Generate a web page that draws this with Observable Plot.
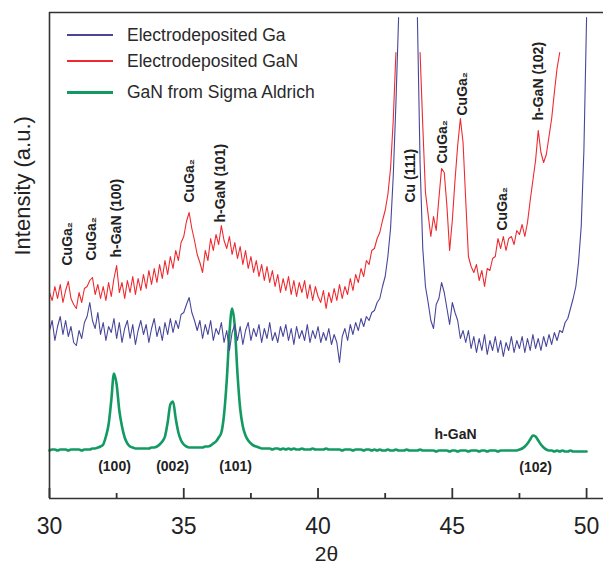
<!DOCTYPE html>
<html>
<head>
<meta charset="utf-8">
<script src="https://cdn.jsdelivr.net/npm/d3@7"></script>
<script src="https://cdn.jsdelivr.net/npm/@observablehq/plot@0.6"></script>
<style>
  html, body { margin: 0; padding: 0; background: #fff; }
  #wrap { position: relative; width: 603px; height: 564px; overflow: hidden; font-family: "Liberation Sans", Arial, sans-serif; }
  #legend { position: absolute; left: 0; top: 0; }
  .item { position: absolute; left: 67px; height: 20px; display: flex; align-items: center; font-size: 17.5px; color: #2a2a2a; white-space: nowrap; }
  .swatch { width: 46px; margin-right: 14px; }
</style>
</head>
<body>
<div id="wrap"><div id="chart"></div><div id="legend"></div></div>
<script>
// 2θ measurement grid
const twoThetaStart = 30.0;
const twoThetaStep = 0.1;

// Series names / colours
const seriesNames = ["Electrodeposited Ga", "Electrodeposited GaN", "GaN from Sigma Aldrich"];
const seriesColors = ["#47469a", "#ee2a2f", "#139a62"];

// Electrodeposited Ga (30.0 .. 50.0, step 0.1), null = off scale (clipped)
const gaIntensity = [
  168,178,158,172,182,164,178,162,172,156,
  153,168,160,176,182,196,178,170,186,164,
  176,158,172,166,180,160,176,156,170,178,
  160,174,154,168,178,164,174,156,170,180,
  162,172,158,176,164,180,166,178,170,184,
  186,194,201,186,178,168,178,160,174,164,
  178,158,170,164,176,156,168,148,166,174,
  158,172,154,168,176,158,170,162,174,156,
  170,160,176,158,166,156,172,162,174,158,
  170,154,172,160,168,158,174,156,168,160,
  172,156,166,158,170,154,164,156,136,162,
  170,158,174,164,176,168,180,172,182,178,
  186,188,196,200,212,222,242,270,322,395,
  481,null,null,null,null,null,null,481,335,250,
  212,196,178,170,194,200,216,206,190,174,
  196,186,178,160,168,156,168,150,162,146,
  160,148,164,144,158,148,162,146,158,142,
  156,148,162,146,158,150,162,146,160,148,
  164,150,160,148,162,152,164,154,166,158,
  168,166,176,180,190,200,212,236,272,348,
  481
];

// Electrodeposited GaN (30.0 .. 49.0, step 0.1)
const ganIntensity = [
  206,198,212,200,214,196,208,217,200,194,
  190,206,196,210,212,218,221,204,214,200,
  212,198,216,202,220,233,206,216,200,218,
  206,222,204,220,208,224,210,228,214,230,
  216,234,220,238,224,242,230,248,238,256,
  262,277,286,270,258,244,236,226,248,238,
  260,248,264,254,273,258,250,262,244,256,
  240,252,234,248,230,242,226,238,222,234,
  218,232,216,228,212,224,206,220,208,222,
  204,218,202,216,206,218,200,214,198,212,
  202,196,208,190,206,196,210,198,214,200,
  212,204,220,208,224,216,230,222,238,234,
  248,250,260,266,278,288,304,330,378,446,
  null,null,null,null,null,null,null,null,446,373,
  306,284,262,282,268,300,330,326,292,248,
  278,318,353,380,356,298,242,232,226,234,
  218,228,212,230,228,240,242,260,250,262,
  248,260,262,254,268,264,274,262,276,298,
  318,338,368,346,336,344,362,380,406,430,
  446
];

// GaN from Sigma Aldrich (30.0 .. 50.0, step 0.1)
const sigmaIntensity = [
  48,49,49,48,49,49,49,48,49,49,
  49,49,48,49,49,49,50,50,51,52,
  54,62,74,98,125,114,88,72,61,55,
  52,51,50,50,50,50,50,50,51,51,
  52,54,57,62,76,94,97,80,66,58,
  54,52,51,51,51,51,51,51,52,52,
  53,55,57,61,66,84,118,165,190,172,
  125,90,72,63,58,55,53,52,51,50,
  50,50,50,49,50,50,49,50,49,50,
  49,50,49,49,50,49,49,49,50,49,
  49,49,49,50,49,49,49,49,49,48,
  49,49,49,48,49,49,49,48,49,49,
  48,49,48,49,48,48,49,48,48,49,
  48,48,48,49,48,48,48,48,49,48,
  48,48,48,48,47,48,48,48,48,47,
  48,48,47,48,48,48,47,48,48,48,
  47,48,48,47,48,48,48,47,48,48,
  48,48,48,48,48,49,50,52,55,59,
  63,62,58,54,51,49,48,48,47,48,
  47,48,47,47,48,47,47,47,47,47,
  47
];

// Peak annotations (rotated)
const annotLabels = ["CuGa₂", "CuGa₂", "h-GaN (100)", "CuGa₂", "h-GaN (101)", "Cu (111)", "CuGa₂", "CuGa₂", "CuGa₂", "h-GaN (102)"];
const annotTheta = [30.67, 31.56, 32.5, 35.2, 36.37, 43.45, 44.64, 45.38, 46.87, 48.21];
const annotIntensity = [233, 238, 241, 296, 276, 296, 335, 383, 268, 378];

// Reference-pattern reflections
const hklLabels = ["(100)", "(002)", "(101)", "(102)"];
const hklTheta = [32.42, 34.58, 36.93, 48.1];
const hklIntensity = [32, 32, 32, 31];
const phaseLabel = ["h-GaN"];
const phaseTheta = [45.12];
const phaseIntensity = [64];

// Axis ticks and titles
const majorTicks = [30, 35, 40, 45, 50];
const minorTicks = [32.5, 37.5, 42.5, 47.5];
const majorTickLength = 10; // a.u. (inward ticks)
const minorTickLength = 5;
const xDomain = [30, 50.63];
const yDomain = [0, 486];
const xTitle = "2θ";
const yTitle = "Intensity (a.u.)";

function toRows(values) {
  return values.map((v, i) => ({x: +(twoThetaStart + i * twoThetaStep).toFixed(2), y: v}));
}
const gaRows = toRows(gaIntensity);
const ganRows = toRows(ganIntensity);
const sigmaRows = toRows(sigmaIntensity);
const annots = annotLabels.map((t, i) => ({t, x: annotTheta[i], y: annotIntensity[i]}));
const hkl = hklLabels.map((t, i) => ({t, x: hklTheta[i], y: hklIntensity[i]}));
const phase = phaseLabel.map((t, i) => ({t, x: phaseTheta[i], y: phaseIntensity[i]}));

const axisColor = "#333";
const chart = Plot.plot({
  width: 603,
  height: 564,
  marginLeft: 49,
  marginRight: 0,
  marginTop: 12,
  marginBottom: 66,
  x: {domain: xDomain},
  y: {domain: yDomain, axis: null},
  style: {fontFamily: "'Liberation Sans', Arial, sans-serif", background: "#fff", color: "#222", overflow: "visible"},
  marks: [
    Plot.line(sigmaRows, {x: "x", y: "y", stroke: seriesColors[2], strokeWidth: 2.6, curve: "monotone-x"}),
    Plot.line(gaRows, {x: "x", y: "y", stroke: seriesColors[0], strokeWidth: 1.1}),
    Plot.line(ganRows, {x: "x", y: "y", stroke: seriesColors[1], strokeWidth: 1.1}),
    Plot.text(annots, {x: "x", y: "y", text: "t", rotate: -90, textAnchor: "start", lineAnchor: "middle", fontSize: 14, fontWeight: "bold", fill: "#222"}),
    Plot.text(hkl, {x: "x", y: "y", text: "t", fontSize: 14, fontWeight: "bold", fill: "#222"}),
    Plot.text(phase, {x: "x", y: "y", text: "t", fontSize: 14, fontWeight: "bold", fill: "#222"}),
    // inward tick marks
    Plot.ruleX(majorTicks, {x: d => d, y1: yDomain[0], y2: majorTickLength, stroke: axisColor, strokeWidth: 1.8}),
    Plot.ruleX(minorTicks, {x: d => d, y1: yDomain[0], y2: minorTickLength, stroke: axisColor, strokeWidth: 1.8}),
    Plot.ruleY([yDomain[0]], {stroke: axisColor, strokeWidth: 1.6}),
    Plot.ruleY([yDomain[1]], {stroke: axisColor, strokeWidth: 1.4}),
    Plot.ruleX([xDomain[0]], {stroke: axisColor, strokeWidth: 1.6}),
    Plot.axisX({ticks: majorTicks, tickSize: 0, tickPadding: 19, fontSize: 23, label: null, fill: "#222"}),
    Plot.text([xTitle], {frameAnchor: "bottom", dy: 48, lineAnchor: "top", fontSize: 21, fill: "#222"}),
    Plot.text([yTitle], {frameAnchor: "left", dx: -27, rotate: -90, fontSize: 22, fill: "#222"})
  ]
});
document.getElementById("chart").appendChild(chart);

// Legend inside the frame (top-left)
const legendTops = [25, 51, 82];
const legendOrder = [0, 1, 2];
const legend = document.getElementById("legend");
legendOrder.forEach((k, i) => {
  const row = document.createElement("div");
  row.className = "item";
  row.style.top = legendTops[i] + "px";
  const sw = document.createElement("div");
  sw.className = "swatch";
  sw.style.borderTop = (k === 2 ? 3 : 2.5) + "px solid " + seriesColors[k];
  row.appendChild(sw);
  const lbl = document.createElement("span");
  lbl.textContent = seriesNames[k];
  row.appendChild(lbl);
  legend.appendChild(row);
});
</script>
</body>
</html>
